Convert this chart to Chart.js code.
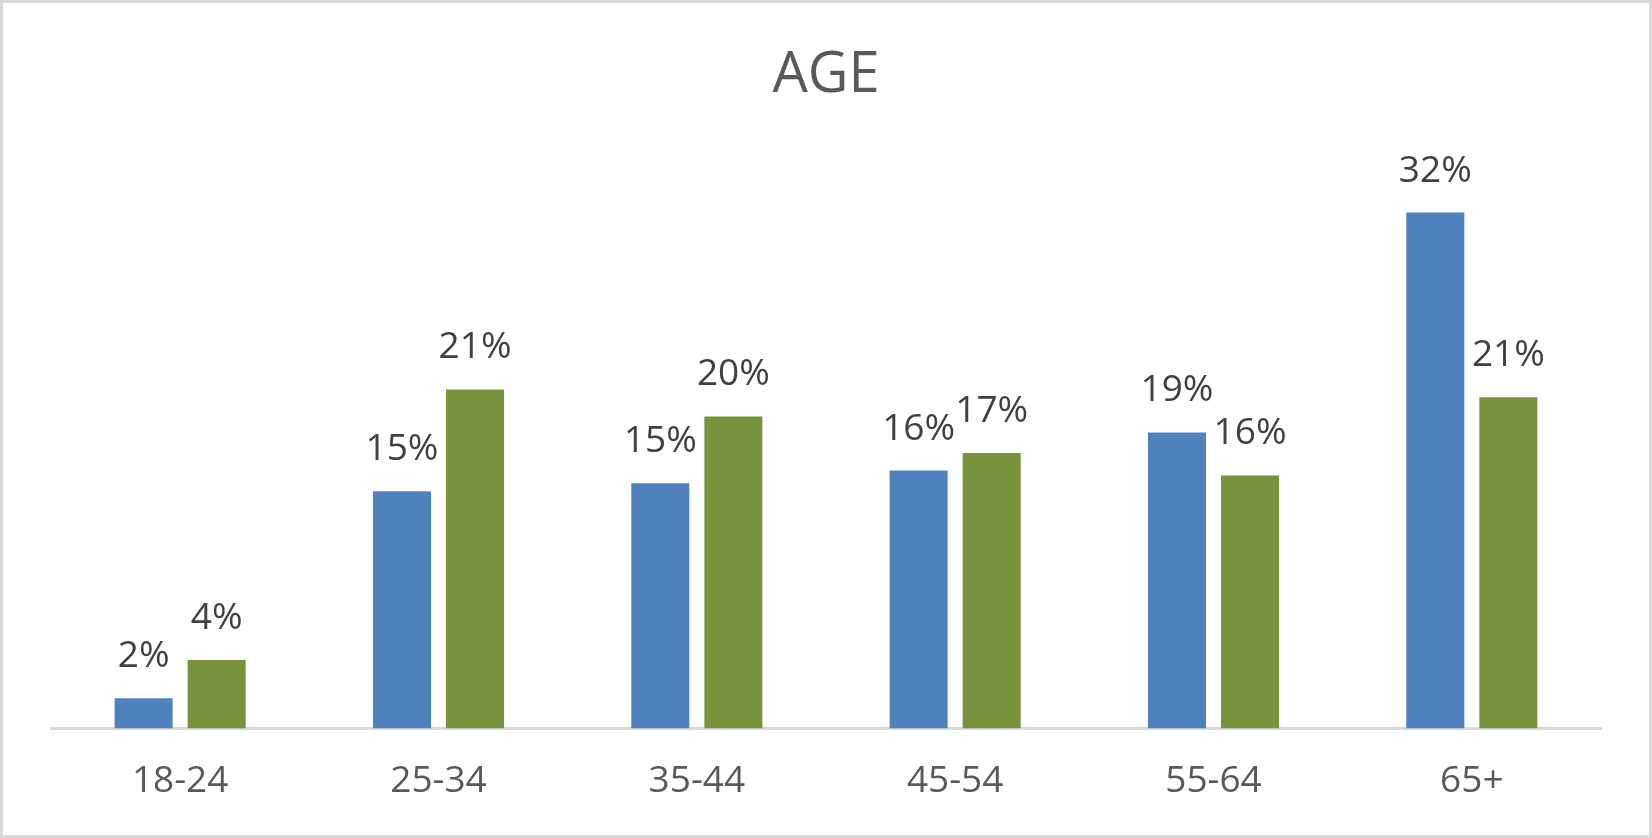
<!DOCTYPE html>
<html>
<head>
<meta charset="utf-8">
<script src="https://cdn.jsdelivr.net/npm/chart.js@4/dist/chart.umd.min.js"></script>
<style>
  html, body { margin: 0; padding: 0; background: #ffffff; overflow: hidden; }
  #wrap { position: relative; width: 1652px; height: 838px; }
  #frame { position: absolute; left: 0; top: 0; width: 1652px; height: 838px; box-sizing: border-box; border: 3px solid #d9d9d9; pointer-events: none; }
  canvas { position: absolute; left: 0; top: 0; }
</style>
</head>
<body>
<div id="wrap">
  <canvas id="c" width="1652" height="838"></canvas>
  <div id="frame"></div>
</div>
<script>
const categories = ["18-24", "25-34", "35-44", "45-54", "55-64", "65+"];
const seriesBlue = [1.9, 14.9, 15.4, 16.2, 18.6, 32.4];
const seriesGreen = [4.3, 21.3, 19.6, 17.3, 15.9, 20.8];
const chartTitle = "AGE";
const FONT = "'Open Sans', 'DejaVu Sans', sans-serif";

const dataLabelPlugin = {
  id: 'dataLabels',
  afterDatasetsDraw(chart) {
    const ctx = chart.ctx;
    ctx.save();
    ctx.font = "37px " + FONT;
    ctx.fillStyle = "#404040";
    ctx.textAlign = "center";
    ctx.textBaseline = "alphabetic";
    chart.data.datasets.forEach((ds, di) => {
      const meta = chart.getDatasetMeta(di);
      meta.data.forEach((el, i) => {
        const v = ds.data[i];
        ctx.fillText(Math.round(v) + "%", el.x, el.y - 31);
      });
    });
    ctx.restore();
  }
};

new Chart(document.getElementById('c'), {
  type: 'bar',
  data: {
    labels: categories,
    datasets: [
      { label: 'A', data: seriesBlue, backgroundColor: '#4F81BD', categoryPercentage: 0.5655, barPercentage: 0.7945 },
      { label: 'B', data: seriesGreen, backgroundColor: '#77933C', categoryPercentage: 0.5655, barPercentage: 0.7945 }
    ]
  },
  options: {
    responsive: false,
    animation: false,
    devicePixelRatio: 1,
    layout: { padding: { left: 51, right: 51, top: 0, bottom: 3 } },
    plugins: {
      legend: { display: false },
      tooltip: { enabled: false },
      title: {
        display: true,
        text: chartTitle,
        color: '#595959',
        font: { family: FONT, size: 56, weight: 'normal', lineHeight: 1.2 },
        padding: { top: 42, bottom: 62 }
      }
    },
    scales: {
      x: {
        grid: { display: false, drawTicks: false },
        border: { display: true, color: '#d9d9d9', width: 3 },
        ticks: { color: '#595959', font: { family: FONT, size: 37, lineHeight: 1.2 }, padding: 31 }
      },
      y: {
        display: false,
        min: 0,
        max: 35
      }
    }
  },
  plugins: [dataLabelPlugin]
});
</script>
</body>
</html>
